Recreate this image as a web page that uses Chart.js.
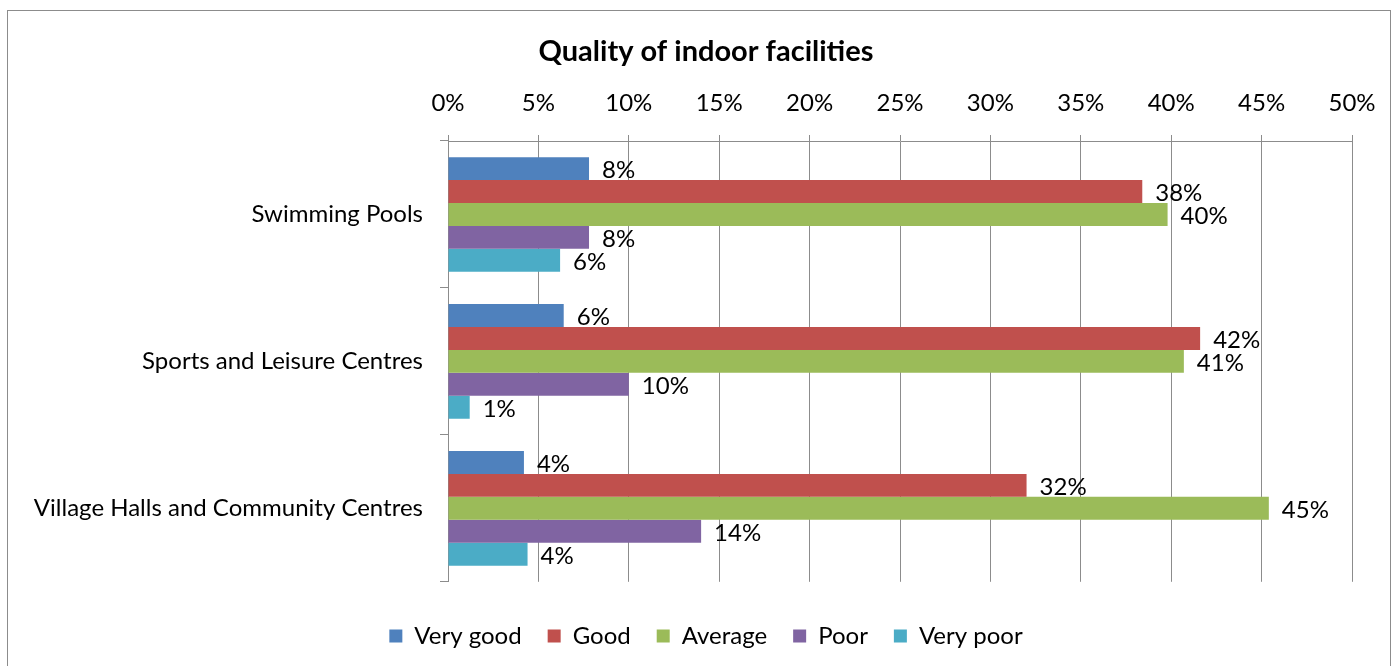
<!DOCTYPE html>
<html>
<head>
<meta charset="utf-8">
<script src="https://cdn.jsdelivr.net/npm/chart.js@4"></script>
<style>
  html, body { margin: 0; padding: 0; background: #fff; }
  #wrap { width: 1394px; height: 666px; }
</style>
</head>
<body>
<div id="wrap"><canvas id="quality-chart" width="1394" height="666"></canvas></div>
<script>
const facilities = ['Swimming Pools', 'Sports and Leisure Centres', 'Village Halls and Community Centres'];
const veryGood = [7.8, 6.4, 4.2];
const good = [38.4, 41.6, 32.0];
const average = [39.8, 40.7, 45.4];
const poor = [7.8, 10.0, 14.0];
const veryPoor = [6.2, 1.2, 4.4];
const ratingNames = ['Very good', 'Good', 'Average', 'Poor', 'Very poor'];
const ratingColours = ['#4F81BD', '#C0504D', '#9BBB59', '#8064A2', '#4BACC6'];

const FONT = "Lato, 'Open Sans', sans-serif";

// outer frame like the excel chart area
const framePlugin = {
  id: 'frame',
  beforeDraw(chart) {
    const ctx = chart.ctx;
    ctx.save();
    ctx.strokeStyle = '#8c8c8c';
    ctx.lineWidth = 1;
    ctx.strokeRect(7.5, 10.5, 1383, 700);
    ctx.restore();
  },
};

// value labels at the end of each bar
const barLabels = {
  id: 'barLabels',
  afterDatasetsDraw(chart) {
    const ctx = chart.ctx;
    ctx.save();
    ctx.font = '24px ' + FONT;
    ctx.fillStyle = '#000';
    ctx.textAlign = 'left';
    ctx.textBaseline = 'middle';
    chart.data.datasets.forEach((ds, i) => {
      chart.getDatasetMeta(i).data.forEach((bar, j) => {
        ctx.fillText(Math.round(ds.data[j]) + '%', bar.x + 13, bar.y + 2);
      });
    });
    ctx.restore();
  },
};

const seriesData = [veryGood, good, average, poor, veryPoor];

new Chart(document.getElementById('quality-chart'), {
  type: 'bar',
  data: {
    labels: facilities,
    datasets: ratingNames.map((name, i) => ({
      label: name,
      data: seriesData[i],
      backgroundColor: ratingColours[i],
      categoryPercentage: 0.78,
      barPercentage: 1.0,
    })),
  },
  options: {
    indexAxis: 'y',
    responsive: false,
    animation: false,
    layout: {
      padding: { left: 18, right: 0, top: 0, bottom: 8 },
    },
    plugins: {
      title: {
        display: true,
        text: 'Quality of indoor facilities',
        color: '#000',
        font: { family: FONT, size: 29, weight: 'bold' },
        padding: { top: 34, bottom: 10 },
      },
      legend: {
        position: 'bottom',
        title: { display: true, text: '', font: { size: 1 }, padding: { top: 8, bottom: 7 } },
        labels: {
          color: '#000',
          font: { family: FONT, size: 24 },
          boxWidth: 13,
          boxHeight: 13,
          padding: 26,
        },
      },
      tooltip: { enabled: false },
    },
    scales: {
      x: {
        position: 'top',
        min: 0,
        max: 50,
        ticks: {
          stepSize: 5,
          color: '#000',
          font: { family: FONT, size: 24 },
          padding: 17,
          callback: (v) => v + '%',
        },
        grid: { color: '#8c8c8c', tickLength: 6 },
        border: { color: '#8c8c8c' },
        afterFit: (scale) => { scale.height = 62.2; },
      },
      y: {
        offset: true,
        ticks: {
          color: '#000',
          font: { family: FONT, size: 24 },
          padding: 17,
        },
        grid: { drawOnChartArea: false, color: '#8c8c8c', tickLength: 8, offset: true },
        border: { color: '#8c8c8c' },
        afterFit: (scale) => { scale.width = 430; },
      },
      // empty right axis, only keeps the plot area clear of the frame
      yRight: {
        type: 'category',
        position: 'right',
        ticks: { display: false },
        grid: { display: false },
        border: { display: false },
        afterFit: (scale) => { scale.width = 42; },
      },
    },
  },
  plugins: [framePlugin, barLabels],
});
</script>
</body>
</html>
